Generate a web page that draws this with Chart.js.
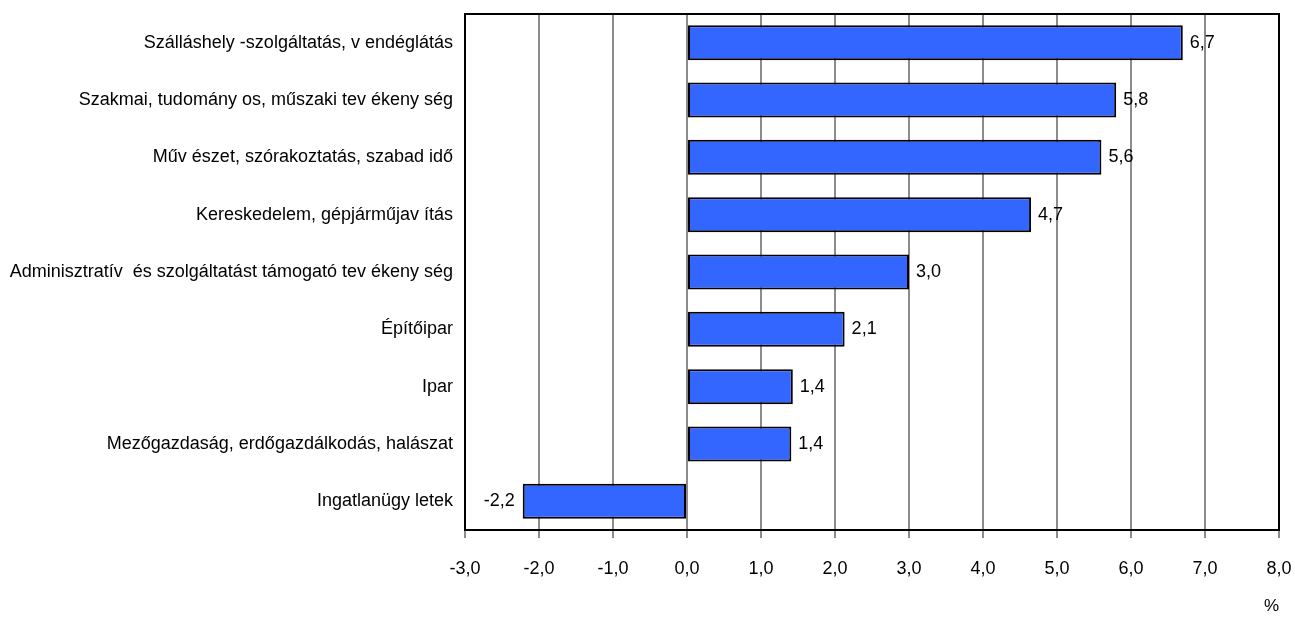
<!DOCTYPE html>
<html>
<head>
<meta charset="utf-8">
<script src="https://cdn.jsdelivr.net/npm/chart.js@4/dist/chart.umd.min.js"></script>
<style>
    html, body { margin: 0; padding: 0; background: #ffffff; }
    #wrap { width: 1295px; height: 617px; }
</style>
</head>
<body>
<div id="wrap"><canvas id="barChart" width="1295" height="617"></canvas></div>
<script>
// Categories, top to bottom
const categories = [
    'Szálláshely -szolgáltatás, v endéglátás',
    'Szakmai, tudomány os, műszaki tev ékeny ség',
    'Műv észet, szórakoztatás, szabad idő',
    'Kereskedelem, gépjárműjav ítás',
    'Adminisztratív  és szolgáltatást támogató tev ékeny ség',
    'Építőipar',
    'Ipar',
    'Mezőgazdaság, erdőgazdálkodás, halászat',
    'Ingatlanügy letek'
];

// Bar lengths (%)
const values = [6.7, 5.8, 5.6, 4.65, 3.0, 2.13, 1.43, 1.41, -2.22];

// Printed value labels
const valueLabels = ['6,7', '5,8', '5,6', '4,7', '3,0', '2,1', '1,4', '1,4', '-2,2'];

// Axis range
const axisMin = -3;
const axisMax = 8;

const FONT = "'Liberation Sans', Arial, sans-serif";

// Frame on top/right and value labels beside the bars
const framePlugin = {
    id: 'frame',
    afterDatasetsDraw(chart) {
        const ctx = chart.ctx;
        const area = chart.chartArea;
        ctx.save();
        ctx.strokeStyle = '#000000';
        ctx.lineWidth = 2;
        ctx.strokeRect(area.left, area.top, area.right - area.left, area.bottom - area.top);

        const meta = chart.getDatasetMeta(0);
        ctx.font = '18px ' + FONT;
        ctx.fillStyle = '#000000';
        ctx.textBaseline = 'middle';
        meta.data.forEach((bar, i) => {
            if (values[i] >= 0) {
                ctx.textAlign = 'left';
                ctx.fillText(valueLabels[i], bar.x + 7, bar.y);
            } else {
                ctx.textAlign = 'right';
                ctx.fillText(valueLabels[i], bar.x - 8, bar.y);
            }
        });
        ctx.restore();
    }
};

new Chart(document.getElementById('barChart'), {
    type: 'bar',
    data: {
        labels: categories,
        datasets: [{
            data: values,
            backgroundColor: '#3366ff',
            borderColor: '#000000',
            borderWidth: 2,
            borderSkipped: false,
            categoryPercentage: 1,
            barPercentage: 0.61
        }]
    },
    options: {
        indexAxis: 'y',
        responsive: false,
        animation: false,
        layout: {
            padding: { top: 14, right: 16, left: 0, bottom: 0 }
        },
        plugins: {
            legend: { display: false },
            tooltip: { enabled: false }
        },
        scales: {
            x: {
                min: axisMin,
                max: axisMax,
                ticks: {
                    stepSize: 1,
                    color: '#000000',
                    padding: 20,
                    font: { family: FONT, size: 18 },
                    callback: v => v.toFixed(1).replace('.', ',')
                },
                grid: {
                    color: '#8c8c8c',
                    lineWidth: 2,
                    tickLength: 8,
                    drawTicks: true
                },
                border: { display: true, color: '#000000', width: 2 },
                title: {
                    display: true,
                    text: '%',
                    align: 'end',
                    color: '#000000',
                    padding: { top: 0, bottom: 0 },
                    font: { family: FONT, size: 17 }
                },
                afterFit(scale) {
                    scale.height = 87;
                    scale.paddingLeft = 0;
                    scale.paddingRight = 0;
                }
            },
            y: {
                ticks: {
                    color: '#000000',
                    padding: 12,
                    font: { family: FONT, size: 18 }
                },
                grid: { display: false, drawTicks: false, tickLength: 0 },
                border: { display: true, color: '#000000', width: 2 },
                afterFit(scale) {
                    scale.width = 465;
                    scale.paddingTop = 0;
                    scale.paddingBottom = 0;
                }
            }
        }
    },
    plugins: [framePlugin]
});
</script>
</body>
</html>
